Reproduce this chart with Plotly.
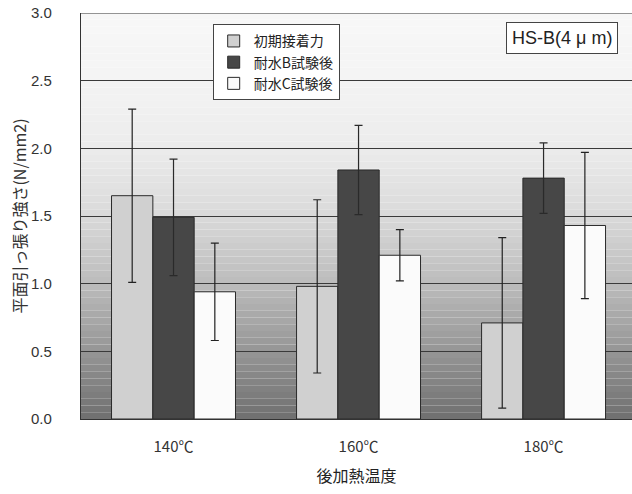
import numpy as np
import plotly.graph_objects as go

categories = ["140℃", "160℃", "180℃"]
series_names = ["初期接着力", "耐水B試験後", "耐水C試験後"]
initial = [1.65, 0.98, 0.71]
initial_err = [0.64, 0.64, 0.63]
water_b = [1.49, 1.84, 1.78]
water_b_err = [0.43, 0.33, 0.26]
water_c = [0.94, 1.21, 1.43]
water_c_err = [0.36, 0.19, 0.54]
y_ticks = [0.0, 0.5, 1.0, 1.5, 2.0, 2.5, 3.0]

FONT = "Liberation Sans, Noto Sans CJK JP, sans-serif"
JP = "Noto Sans CJK JP, sans-serif"

fig = go.Figure()
styles = [
    dict(color="#d0d0d0", err="#222222"),
    dict(color="#474747", err="#2a2a2a"),
    dict(color="#fbfbfb", err="#222222"),
]
for name, vals, errs, st in zip(series_names, [initial, water_b, water_c],
                                [initial_err, water_b_err, water_c_err], styles):
    fig.add_trace(go.Bar(
        x=categories, y=vals, name=name, hoverinfo="skip",
        marker=dict(color=st["color"], line=dict(color="#2a2a2a", width=1)),
        error_y=dict(type="data", array=errs, visible=True, color=st["err"],
                     thickness=1.2, width=4),
    ))

# gradient background (style only)
shapes = []
n = 60
stops_y = [0.0, 0.5, 1.0, 1.5, 2.0, 2.5, 3.0]
stops_c = [112, 150, 188, 218, 236, 244, 248]
for i in range(n):
    y0 = 3.0 * i / n
    y1 = 3.0 * (i + 1) / n
    ym = (y0 + y1) / 2
    g = int(np.interp(ym, stops_y, stops_c))
    shapes.append(dict(type="rect", xref="paper", yref="y", x0=0, x1=1, y0=y0, y1=y1,
                       fillcolor=f"rgb({g},{g},{g})", line=dict(width=0), layer="below"))
shapes.append(dict(type="line", xref="paper", yref="y", x0=0, x1=1, y0=3.0, y1=3.0,
                   line=dict(color="#333333", width=1.2), layer="above"))

fig.update_layout(
    width=632, height=494,
    margin=dict(l=81, r=0, t=13, b=75),
    paper_bgcolor="white", plot_bgcolor="white",
    barmode="group", bargap=0.33, bargroupgap=0,
    hovermode=False,
    font=dict(family=FONT, size=14, color="#333333"),
    shapes=shapes,
    showlegend=True,
    legend=dict(x=0.239, y=0.972, xanchor="left", yanchor="top",
                bgcolor="white", bordercolor="#444444", borderwidth=1,
                font=dict(family=JP, size=14, color="#222222"),
                tracegroupgap=0, itemwidth=30),
    annotations=[dict(text="HS-B(4 μ m)", xref="paper", yref="paper",
                      x=0.771, y=0.978, xanchor="left", yanchor="top",
                      showarrow=False, bgcolor="white", bordercolor="#444444",
                      borderwidth=1, borderpad=5,
                      font=dict(family=FONT, size=18, color="#222222"))],
)
fig.update_xaxes(
    range=[-0.5, 2.478], showgrid=False, showline=True, linecolor="#333333", linewidth=1.2,
    ticks="", ticklabelstandoff=14, automargin=False,
    tickfont=dict(family=JP, size=15, color="#333333"),
    title=dict(text="後加熱温度", font=dict(family=JP, size=16, color="#222222"), standoff=15),
)
fig.update_yaxes(
    range=[0, 3.0], tickvals=y_ticks, tickformat=".1f",
    showgrid=True, gridcolor="#3a3a3a", gridwidth=1,
    showline=True, linecolor="#333333", linewidth=1.2,
    zeroline=False, ticks="", ticklabelstandoff=25, automargin=False,
    tickfont=dict(family=FONT, size=15, color="#333333"),
    title=dict(text="平面引っ張り強さ(N/mm2)", font=dict(family=JP, size=16, color="#333333"),
               standoff=0),
)
fig.write_html("out.html", config={"displayModeBar": False, "staticPlot": True},
               post_script="document.body.style.margin='0';")
